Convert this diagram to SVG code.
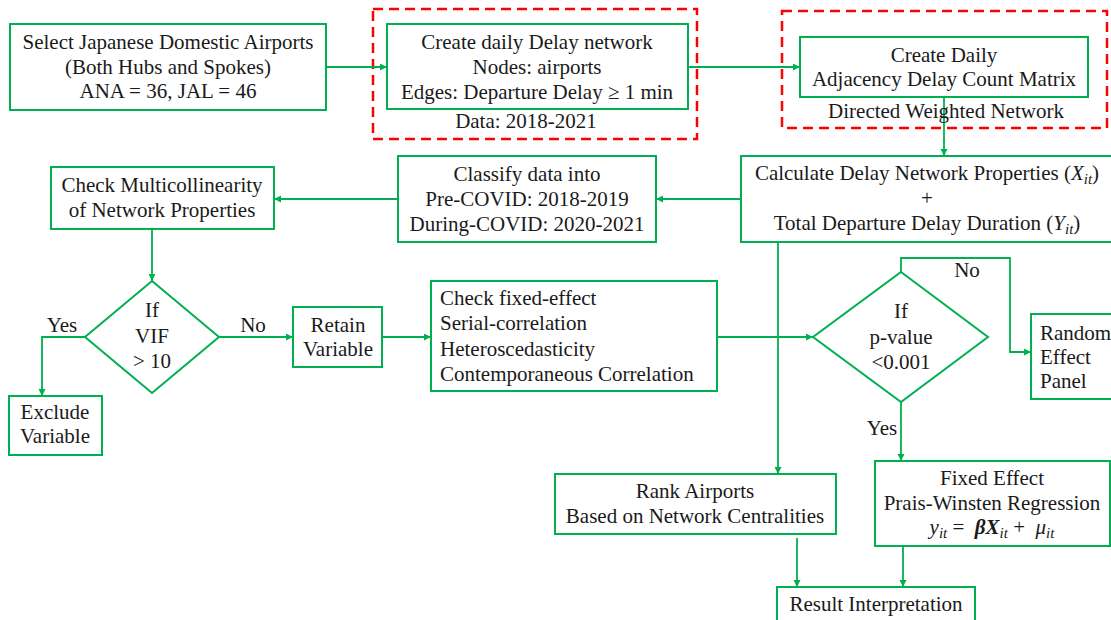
<svg xmlns="http://www.w3.org/2000/svg" width="1111" height="620" viewBox="0 0 1111 620">
  <defs>
    <style>
      .box { fill: #ffffff; stroke: #00b050; stroke-width: 2; }
      .group { fill: none; stroke: #ff0000; stroke-width: 2.5; stroke-dasharray: 10 6; }
      .link { fill: none; stroke: #00b050; stroke-width: 1.8; }
      text { font-family: "Liberation Serif", "Times New Roman", serif; font-size: 21px; fill: #1a1a1a; }
      .c { text-anchor: middle; }
      .m { font-style: italic; }
      .sub { font-size: 15px; font-style: italic; }
      .b { font-weight: bold; font-style: italic; }
    </style>
    <marker id="arrow" markerUnits="userSpaceOnUse" markerWidth="8" markerHeight="8" refX="7" refY="3.5" orient="auto">
      <path d="M0,0 L7,3.5 L0,7 z" fill="#00b050"/>
    </marker>
  </defs>

  <rect width="1111" height="620" fill="#ffffff"/>

  <!-- dashed groupings -->
  <rect class="group" x="373" y="9" width="324" height="130"/>
  <rect class="group" x="782" y="11" width="325" height="117"/>

  <!-- connectors -->
  <g id="connectors">
    <path class="link" d="M326,67 H387" marker-end="url(#arrow)"/>
    <path class="link" d="M688,67 H800" marker-end="url(#arrow)"/>
    <path class="link" d="M944,97 V156" marker-end="url(#arrow)"/>
    <path class="link" d="M741,199 H656" marker-end="url(#arrow)"/>
    <path class="link" d="M398,199 H274" marker-end="url(#arrow)"/>
    <path class="link" d="M152,229 V281" marker-end="url(#arrow)"/>
    <path class="link" d="M85,337 H42 V396" marker-end="url(#arrow)"/>
    <path class="link" d="M219,337 H293" marker-end="url(#arrow)"/>
    <path class="link" d="M382,337 H431" marker-end="url(#arrow)"/>
    <path class="link" d="M717,337 H813" marker-end="url(#arrow)"/>
    <path class="link" d="M778,242 V474" marker-end="url(#arrow)"/>
    <path class="link" d="M901,272 V258 H1010 V352 H1031" marker-end="url(#arrow)"/>
    <path class="link" d="M901,402 V461" marker-end="url(#arrow)"/>
    <path class="link" d="M797,538 V587" marker-end="url(#arrow)"/>
    <path class="link" d="M903,546 V587" marker-end="url(#arrow)"/>
  </g>

  <!-- edge labels -->
  <text x="62" y="332" class="c">Yes</text>
  <text x="253" y="332" class="c">No</text>
  <text x="967" y="277" class="c">No</text>
  <text x="882" y="435" class="c">Yes</text>

  <g id="select-airports">
    <rect class="box" x="10" y="24" width="316" height="86"/>
    <text x="168" y="49" class="c">Select Japanese Domestic Airports</text>
    <text x="168" y="74" class="c">(Both Hubs and Spokes)</text>
    <text x="168" y="98" class="c">ANA = 36, JAL = 46</text>
  </g>

  <g id="delay-network">
    <rect class="box" x="387" y="24" width="301" height="85"/>
    <text x="537" y="49" class="c">Create daily Delay network</text>
    <text x="537" y="74" class="c">Nodes: airports</text>
    <text x="537" y="99" class="c">Edges: Departure Delay ≥ 1 min</text>
    <text x="526" y="128" class="c">Data: 2018-2021</text>
  </g>

  <g id="adjacency-matrix">
    <rect class="box" x="800" y="37" width="288" height="60"/>
    <text x="944" y="62" class="c">Create Daily</text>
    <text x="944" y="86" class="c">Adjacency Delay Count Matrix</text>
    <text x="946" y="118" class="c">Directed Weighted Network</text>
  </g>

  <g id="network-properties">
    <rect class="box" x="741" y="156" width="372" height="86"/>
    <text x="927" y="180" class="c">Calculate Delay Network Properties (<tspan class="m">X</tspan><tspan class="sub" dy="4">it</tspan><tspan dy="-4">)</tspan></text>
    <text x="927" y="205" class="c" style="font-weight:300">+</text>
    <text x="927" y="230" class="c">Total Departure Delay Duration (<tspan class="m">Y</tspan><tspan class="sub" dy="4">it</tspan><tspan dy="-4">)</tspan></text>
  </g>

  <g id="classify-data">
    <rect class="box" x="398" y="156" width="258" height="86"/>
    <text x="527" y="181" class="c">Classify data into</text>
    <text x="527" y="206" class="c">Pre-COVID: 2018-2019</text>
    <text x="527" y="231" class="c">During-COVID: 2020-2021</text>
  </g>

  <g id="multicollinearity">
    <rect class="box" x="51" y="167" width="223" height="62"/>
    <text x="162" y="192" class="c">Check Multicollinearity</text>
    <text x="162" y="217" class="c">of Network Properties</text>
  </g>

  <g id="vif-check">
    <path class="box" d="M152,281 L219,337 L152,393 L85,337 z"/>
    <text x="152" y="317" class="c">If</text>
    <text x="152" y="343" class="c">VIF</text>
    <text x="152" y="368" class="c">&gt; 10</text>
  </g>

  <g id="exclude-variable">
    <rect class="box" x="9" y="396" width="93" height="59"/>
    <text x="55" y="419" class="c">Exclude</text>
    <text x="55" y="443" class="c">Variable</text>
  </g>

  <g id="retain-variable">
    <rect class="box" x="293" y="307" width="89" height="60"/>
    <text x="338" y="332" class="c">Retain</text>
    <text x="338" y="356" class="c">Variable</text>
  </g>

  <g id="model-checks">
    <rect class="box" x="431" y="281" width="286" height="110"/>
    <text x="440" y="305">Check fixed-effect</text>
    <text x="440" y="330">Serial-correlation</text>
    <text x="440" y="356">Heteroscedasticity</text>
    <text x="440" y="381">Contemporaneous Correlation</text>
  </g>

  <g id="pvalue-check">
    <path class="box" d="M901,272 L988,337 L901,402 L813,337 z"/>
    <text x="901" y="318" class="c">If</text>
    <text x="901" y="344" class="c">p-value</text>
    <text x="901" y="369" class="c">&lt;0.001</text>
  </g>

  <g id="random-effect">
    <rect class="box" x="1031" y="314" width="90" height="85"/>
    <text x="1040" y="340">Random</text>
    <text x="1040" y="364">Effect</text>
    <text x="1040" y="388">Panel</text>
  </g>

  <g id="fixed-effect">
    <rect class="box" x="875" y="461" width="235" height="85"/>
    <text x="992" y="485" class="c">Fixed Effect</text>
    <text x="992" y="510" class="c">Prais-Winsten Regression</text>
    <text x="992" y="534" class="c" xml:space="preserve"><tspan class="m">y</tspan><tspan class="sub" dy="4">it</tspan><tspan dy="-4"> =  </tspan><tspan class="b">βX</tspan><tspan class="sub" dy="4">it</tspan><tspan dy="-4"> +  </tspan><tspan class="m">μ</tspan><tspan class="sub" dy="4">it</tspan></text>
  </g>

  <g id="rank-airports">
    <rect class="box" x="555" y="474" width="281" height="60"/>
    <text x="695" y="498" class="c">Rank Airports</text>
    <text x="695" y="523" class="c">Based on Network Centralities</text>
  </g>

  <g id="result-interpretation">
    <rect class="box" x="777" y="587" width="198" height="45"/>
    <text x="876" y="611" class="c">Result Interpretation</text>
  </g>
</svg>
